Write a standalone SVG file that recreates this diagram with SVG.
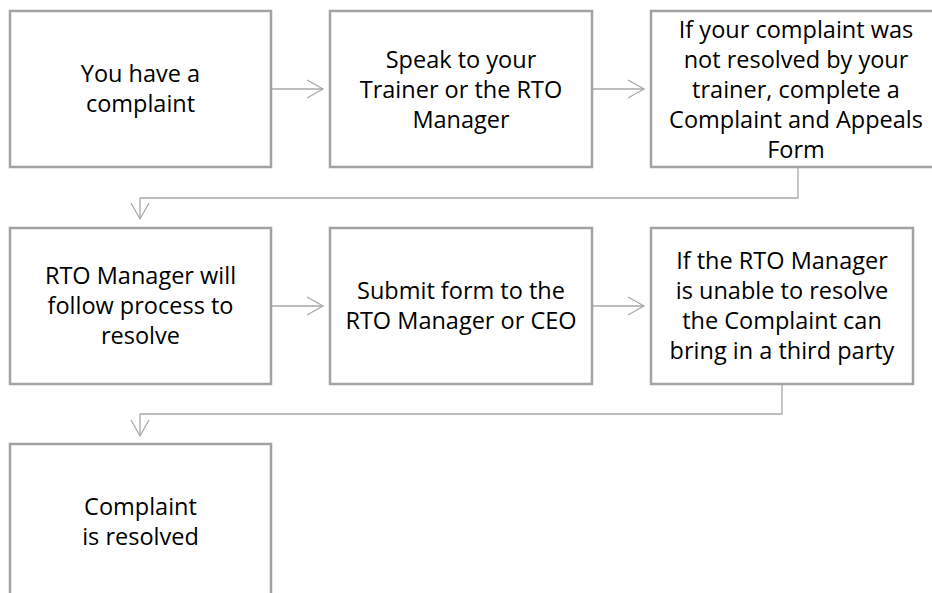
<svg xmlns="http://www.w3.org/2000/svg" width="932" height="593" viewBox="0 0 932 593">
<defs>
<style>
.box{fill:#ffffff;stroke:#a3a3a3;stroke-width:2.5}
.t{font-family:"Open Sans","Noto Sans",sans-serif;font-size:23.5px;fill:#000000;text-anchor:middle}
.c{fill:none;stroke:#a9a9a9;stroke-width:1.3}
</style>
<marker id="ah" viewBox="-18 -11 20 22" refX="0" refY="0" markerWidth="20" markerHeight="22" markerUnits="userSpaceOnUse" orient="auto">
<path d="M-16,-9 L0,0 L-16,9" fill="none" stroke="#a9a9a9" stroke-width="1.3"/>
</marker>
</defs>
<rect width="932" height="593" fill="#ffffff"/>
<g id="connectors">
<path class="c" d="M271 89 H323" marker-end="url(#ah)"/>
<path class="c" d="M592 89 H644" marker-end="url(#ah)"/>
<path class="c" d="M798 167 V198 H140 V219" marker-end="url(#ah)"/>
<path class="c" d="M271 306 H323" marker-end="url(#ah)"/>
<path class="c" d="M592 306 H644" marker-end="url(#ah)"/>
<path class="c" d="M782 384 V414 H140 V436" marker-end="url(#ah)"/>
</g>
<g id="n1">
<rect class="box" x="10" y="11" width="261" height="156"/>
<text class="t"><tspan x="140.5" y="82">You have a</tspan><tspan x="140.5" y="112">complaint</tspan></text>
</g>
<g id="n2">
<rect class="box" x="330" y="11" width="262" height="156"/>
<text class="t"><tspan x="461" y="68">Speak to your</tspan><tspan x="461" y="98">Trainer or the RTO</tspan><tspan x="461" y="128">Manager</tspan></text>
</g>
<g id="n3">
<rect class="box" x="651" y="11" width="294" height="156"/>
<text class="t"><tspan x="796" y="38">If your complaint was</tspan><tspan x="796" y="68">not resolved by your</tspan><tspan x="796" y="98">trainer, complete a</tspan><tspan x="796" y="128">Complaint and Appeals</tspan><tspan x="796" y="158">Form</tspan></text>
</g>
<g id="n4">
<rect class="box" x="10" y="228" width="261" height="156"/>
<text class="t"><tspan x="140.5" y="284">RTO Manager will</tspan><tspan x="140.5" y="314">follow process to</tspan><tspan x="140.5" y="344">resolve</tspan></text>
</g>
<g id="n5">
<rect class="box" x="330" y="228" width="262" height="156"/>
<text class="t"><tspan x="461" y="299">Submit form to the</tspan><tspan x="461" y="329">RTO Manager or CEO</tspan></text>
</g>
<g id="n6">
<rect class="box" x="651" y="228" width="262" height="156"/>
<text class="t"><tspan x="782" y="269">If the RTO Manager</tspan><tspan x="782" y="299">is unable to resolve</tspan><tspan x="782" y="329">the Complaint can</tspan><tspan x="782" y="359">bring in a third party</tspan></text>
</g>
<g id="n7">
<rect class="box" x="10" y="444" width="261" height="156"/>
<text class="t"><tspan x="140.5" y="515">Complaint</tspan><tspan x="140.5" y="545">is resolved</tspan></text>
</g>
</svg>
